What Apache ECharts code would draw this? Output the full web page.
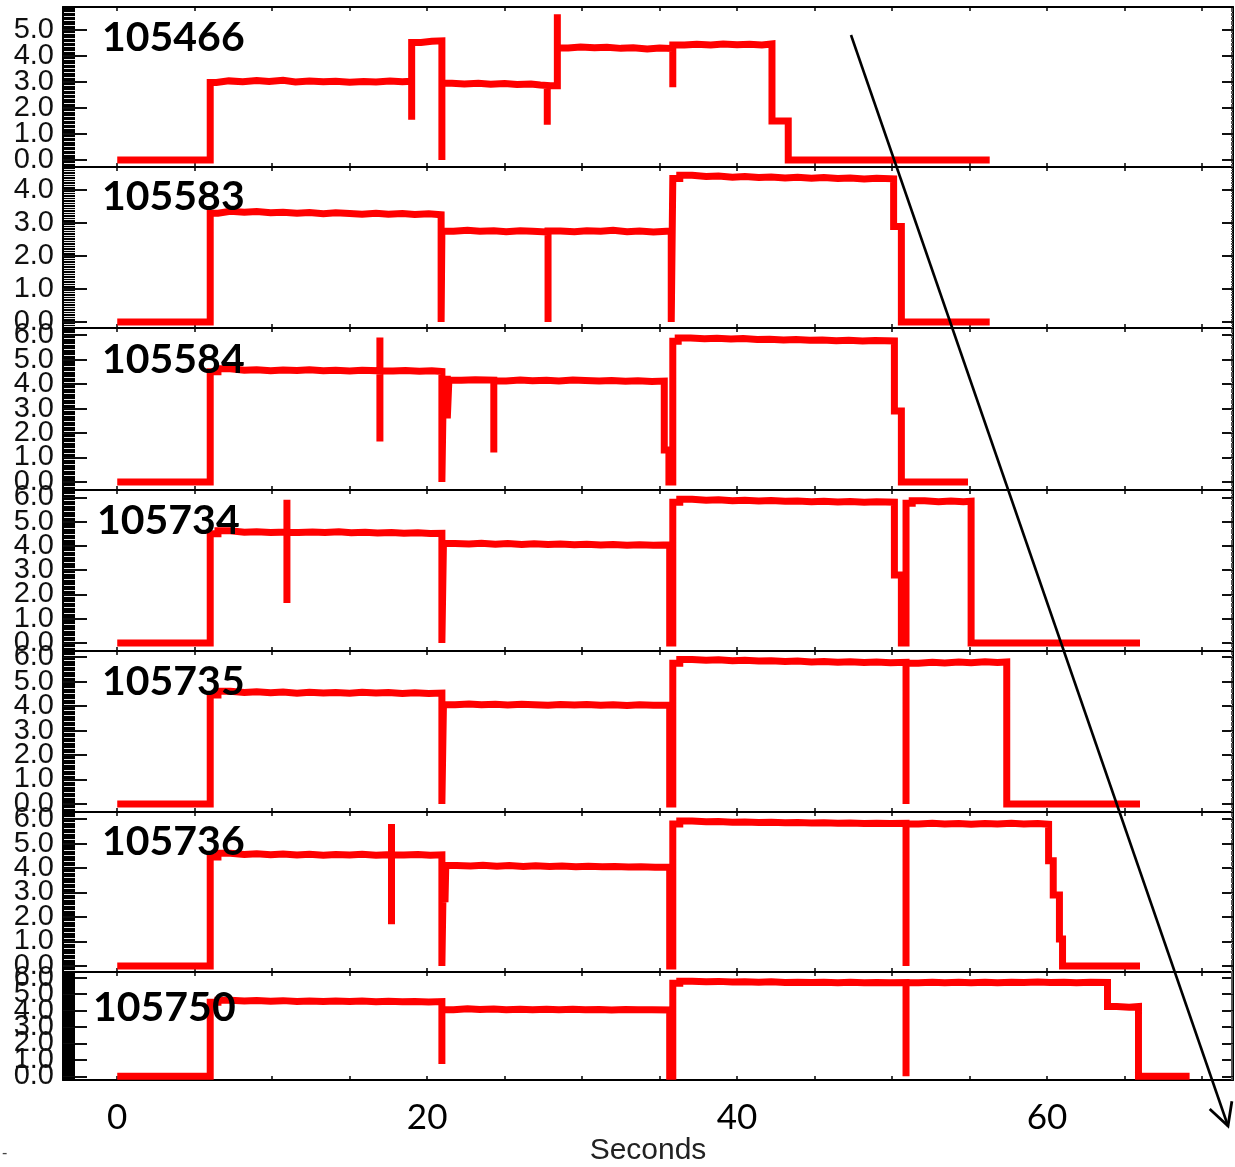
<!DOCTYPE html>
<html>
<head>
<meta charset="utf-8">
<title>Shot traces</title>
<script src="https://cdn.jsdelivr.net/npm/echarts@6/dist/echarts.min.js"></script>
<style>
  html, body { margin: 0; padding: 0; background: #fff; }
  #chart { width: 1235px; height: 1167px; }
</style>
</head>
<body>
<div id="chart"></div>
<script>
// Shot numbers, top to bottom
const SHOTS = ['105466', '105583', '105584', '105734', '105735', '105736', '105750'];

// Traces: [seconds, value] pairs; step changes are written as repeated times
const shot105466 = [
  [0, 0], [6.0, 0], [6.0, 2.98], [6.4, 3.04], [7.2, 3.01], [8.1, 3.05], [9.0, 3.02], [9.8, 3.06],
  [10.7, 3.0], [11.5, 3.04], [12.4, 3.01], [13.3, 3.03], [14.1, 2.99], [15.0, 3.02], [15.9, 3.0],
  [16.7, 3.04], [17.6, 3.01], [18.4, 3.03], [19.0, 3.0], [19.0, 1.55], [19.0, 4.52], [19.6, 4.56],
  [20.3, 4.58], [20.95, 4.55], [20.95, 0], [20.95, 2.95], [21.6, 2.92], [22.4, 2.95], [23.3, 2.91],
  [24.1, 2.94], [25.0, 2.9], [25.8, 2.92], [26.7, 2.88], [27.3, 2.86], [27.75, 2.85], [27.75, 1.35],
  [27.75, 2.85], [28.4, 2.86], [28.4, 5.6], [28.4, 4.3], [29.1, 4.34], [29.9, 4.31], [30.8, 4.33],
  [31.6, 4.29], [32.5, 4.31], [33.3, 4.27], [34.2, 4.3], [35.0, 4.28], [35.85, 4.29], [35.85, 2.8],
  [35.85, 4.42], [36.6, 4.45], [37.4, 4.42], [38.3, 4.46], [39.1, 4.43], [40.0, 4.45], [40.8, 4.42],
  [41.6, 4.46], [42.25, 4.43], [42.25, 1.5], [43.3, 1.5], [43.3, 0], [56.3, 0]
];
const shot105583 = [
  [0, 0], [6.0, 0], [6.0, 3.3], [6.5, 3.36], [7.3, 3.33], [8.2, 3.35], [9.0, 3.31], [9.9, 3.33],
  [10.7, 3.3], [11.6, 3.32], [12.4, 3.28], [13.3, 3.31], [14.1, 3.29], [15.0, 3.27], [15.8, 3.3],
  [16.7, 3.27], [17.5, 3.29], [18.4, 3.26], [19.2, 3.28], [20.1, 3.25], [20.9, 3.27], [20.9, 0],
  [20.95, 2.75], [21.7, 2.78], [22.6, 2.75], [23.4, 2.77], [24.3, 2.74], [25.1, 2.77], [26.0, 2.75],
  [26.8, 2.73], [27.8, 2.75], [27.8, 0], [27.8, 2.76], [28.6, 2.74], [29.5, 2.77], [30.3, 2.75],
  [31.2, 2.78], [32.0, 2.74], [32.9, 2.76], [33.7, 2.73], [34.6, 2.76], [35.75, 2.75], [35.75, 0],
  [35.85, 4.35], [36.3, 4.45], [37.1, 4.41], [38.0, 4.43], [38.8, 4.39], [39.7, 4.41], [40.5, 4.38],
  [41.4, 4.4], [42.2, 4.37], [43.1, 4.39], [43.9, 4.36], [44.8, 4.38], [45.6, 4.35], [46.5, 4.37],
  [47.3, 4.34], [48.2, 4.36], [49.0, 4.34], [50.1, 4.35], [50.1, 2.9], [50.6, 2.9], [50.6, 0],
  [56.3, 0]
];
const shot105584 = [
  [0, 0], [6.0, 0], [6.0, 4.5], [6.5, 4.62], [7.3, 4.56], [8.2, 4.58], [9.0, 4.54], [9.9, 4.57],
  [10.7, 4.55], [11.6, 4.58], [12.4, 4.54], [13.3, 4.56], [14.1, 4.53], [15.0, 4.56], [15.8, 4.54],
  [16.95, 4.55], [16.95, 5.9], [16.95, 1.65], [16.95, 4.53], [17.8, 4.55], [18.6, 4.52], [19.5, 4.54],
  [20.3, 4.51], [20.95, 4.52], [20.95, 0], [21.05, 4.2], [21.3, 4.18], [21.3, 2.6], [21.4, 2.6],
  [21.4, 4.15], [22.2, 4.18], [23.1, 4.16], [24.3, 4.15], [24.3, 1.2], [24.3, 4.12], [25.1, 4.16],
  [26.0, 4.13], [26.8, 4.15], [27.7, 4.12], [28.5, 4.16], [29.4, 4.14], [30.2, 4.12], [31.1, 4.14],
  [31.9, 4.11], [32.8, 4.13], [33.6, 4.1], [34.5, 4.12], [35.3, 4.1], [35.3, 1.3], [35.6, 1.3],
  [35.6, 0], [35.85, 0], [35.85, 5.75], [36.2, 5.88], [37.0, 5.85], [37.9, 5.87], [38.7, 5.84],
  [39.6, 5.86], [40.4, 5.82], [41.3, 5.83], [42.1, 5.8], [43.0, 5.82], [43.8, 5.79], [44.7, 5.8],
  [45.5, 5.77], [46.4, 5.79], [47.2, 5.76], [48.1, 5.78], [48.9, 5.76], [50.15, 5.75], [50.15, 2.9],
  [50.6, 2.9], [50.6, 0], [54.9, 0]
];
const shot105734 = [
  [0, 0], [6.0, 0], [6.0, 4.5], [6.5, 4.62], [7.3, 4.56], [8.2, 4.58], [9.0, 4.55], [9.9, 4.57],
  [10.95, 4.55], [10.95, 5.9], [10.95, 1.65], [10.95, 4.55], [11.7, 4.57], [12.6, 4.55], [13.4, 4.58],
  [14.3, 4.54], [15.1, 4.56], [16.0, 4.53], [16.8, 4.55], [17.7, 4.52], [18.5, 4.54], [19.4, 4.51],
  [20.2, 4.52], [20.95, 4.5], [20.95, 0], [21.05, 4.1], [21.8, 4.08], [22.7, 4.11], [23.5, 4.07],
  [24.4, 4.1], [25.2, 4.06], [26.1, 4.09], [26.9, 4.06], [27.8, 4.08], [28.6, 4.05], [29.5, 4.07],
  [30.3, 4.04], [31.2, 4.06], [32.0, 4.03], [32.9, 4.05], [33.7, 4.02], [34.6, 4.04], [35.65, 4.03],
  [35.65, 0], [35.85, 0], [35.85, 5.8], [36.3, 5.92], [37.1, 5.88], [38.0, 5.9], [38.8, 5.86],
  [39.7, 5.88], [40.5, 5.85], [41.4, 5.87], [42.2, 5.84], [43.1, 5.85], [43.9, 5.82], [44.8, 5.84],
  [45.6, 5.81], [46.5, 5.83], [47.3, 5.8], [48.2, 5.82], [49.0, 5.8], [50.15, 5.8], [50.15, 2.8],
  [50.6, 2.8], [50.6, 0], [50.9, 0], [50.9, 5.75], [51.3, 5.86], [52.1, 5.82], [53.0, 5.85],
  [53.8, 5.82], [54.6, 5.84], [55.1, 5.8], [55.1, 0], [66.0, 0]
];
const shot105735 = [
  [0, 0], [6.0, 0], [6.0, 4.45], [6.5, 4.6], [7.3, 4.55], [8.2, 4.58], [9.0, 4.54], [9.9, 4.57],
  [10.7, 4.52], [11.6, 4.56], [12.4, 4.53], [13.3, 4.55], [14.1, 4.52], [15.0, 4.56], [15.8, 4.53],
  [16.7, 4.55], [17.5, 4.51], [18.4, 4.54], [19.2, 4.51], [20.1, 4.53], [20.95, 4.5], [20.95, 0],
  [21.05, 4.05], [21.8, 4.08], [22.7, 4.05], [23.5, 4.07], [24.4, 4.04], [25.2, 4.07], [26.1, 4.05],
  [26.9, 4.03], [27.8, 4.06], [28.6, 4.04], [29.5, 4.06], [30.3, 4.03], [31.2, 4.05], [32.0, 4.02],
  [32.9, 4.05], [33.7, 4.03], [34.6, 4.04], [35.65, 4.03], [35.65, 0], [35.85, 0], [35.85, 5.75],
  [36.3, 5.9], [37.1, 5.87], [38.0, 5.89], [38.8, 5.85], [39.7, 5.87], [40.5, 5.84], [41.4, 5.85],
  [42.2, 5.82], [43.1, 5.84], [43.9, 5.8], [44.8, 5.82], [45.6, 5.79], [46.5, 5.81], [47.3, 5.78],
  [48.2, 5.8], [49.0, 5.77], [49.9, 5.79], [50.9, 5.77], [50.9, 0], [50.9, 5.75], [51.7, 5.79],
  [52.6, 5.76], [53.4, 5.8], [54.3, 5.77], [55.1, 5.81], [56.0, 5.78], [56.8, 5.8], [57.4, 5.79],
  [57.4, 0], [66.0, 0]
];
const shot105736 = [
  [0, 0], [6.0, 0], [6.0, 4.45], [6.5, 4.6], [7.3, 4.55], [8.2, 4.58], [9.0, 4.54], [9.9, 4.57],
  [10.7, 4.53], [11.6, 4.56], [12.4, 4.52], [13.3, 4.55], [14.1, 4.53], [15.0, 4.56], [15.8, 4.52],
  [16.7, 4.55], [17.7, 4.53], [17.7, 5.8], [17.7, 1.7], [17.7, 4.53], [18.5, 4.55], [19.4, 4.52],
  [20.2, 4.54], [20.95, 4.52], [20.95, 0], [21.05, 4.1], [21.15, 4.1], [21.15, 2.6], [21.2, 2.6],
  [21.2, 4.1], [21.9, 4.08], [22.8, 4.11], [23.6, 4.07], [24.5, 4.1], [25.3, 4.06], [26.2, 4.09],
  [27.0, 4.06], [27.9, 4.08], [28.7, 4.05], [29.6, 4.07], [30.4, 4.05], [31.3, 4.06], [32.1, 4.04],
  [33.0, 4.05], [33.8, 4.03], [34.7, 4.04], [35.65, 4.03], [35.65, 0], [35.85, 0], [35.85, 5.8],
  [36.3, 5.92], [37.1, 5.89], [38.0, 5.9], [38.8, 5.87], [39.7, 5.88], [40.5, 5.86], [41.4, 5.87],
  [42.2, 5.85], [43.1, 5.86], [43.9, 5.84], [44.8, 5.85], [45.6, 5.83], [46.5, 5.84], [47.3, 5.82],
  [48.2, 5.83], [49.0, 5.82], [49.9, 5.83], [50.9, 5.82], [50.9, 0], [50.9, 5.8], [51.7, 5.83],
  [52.6, 5.8], [53.4, 5.82], [54.3, 5.79], [55.1, 5.82], [56.0, 5.8], [56.8, 5.83], [57.7, 5.8],
  [58.5, 5.82], [59.4, 5.79], [60.1, 5.8], [60.1, 4.3], [60.4, 4.3], [60.4, 2.9], [60.8, 2.9],
  [60.8, 1.1], [61.0, 1.1], [61.0, 0], [66.0, 0]
];
const shot105750 = [
  [0, 0], [6.0, 0], [6.0, 4.5], [6.5, 4.63], [7.3, 4.58], [8.2, 4.61], [9.0, 4.57], [9.9, 4.6],
  [10.7, 4.55], [11.6, 4.58], [12.4, 4.55], [13.3, 4.57], [14.1, 4.54], [15.0, 4.57], [15.8, 4.53],
  [16.7, 4.56], [17.5, 4.53], [18.4, 4.55], [19.2, 4.52], [20.1, 4.54], [20.95, 4.52], [20.95, 0.75],
  [20.95, 4.05], [21.7, 4.1], [22.6, 4.06], [23.4, 4.09], [24.3, 4.05], [25.1, 4.08], [26.0, 4.05],
  [26.8, 4.07], [27.7, 4.04], [28.5, 4.07], [29.4, 4.05], [30.2, 4.06], [31.1, 4.03], [31.9, 4.06],
  [32.8, 4.04], [33.6, 4.05], [34.5, 4.03], [35.65, 4.03], [35.65, 0], [35.85, 0], [35.85, 5.65],
  [36.3, 5.78], [37.1, 5.75], [38.0, 5.77], [38.8, 5.73], [39.7, 5.75], [40.5, 5.72], [41.4, 5.74],
  [42.2, 5.7], [43.1, 5.72], [43.9, 5.7], [44.8, 5.71], [45.6, 5.69], [46.5, 5.71], [47.3, 5.68],
  [48.2, 5.7], [49.0, 5.68], [49.9, 5.7], [50.9, 5.7], [50.9, 0], [50.9, 5.68], [51.7, 5.71],
  [52.6, 5.68], [53.4, 5.72], [54.3, 5.69], [55.1, 5.71], [56.0, 5.68], [56.8, 5.72], [57.7, 5.7],
  [58.5, 5.73], [59.4, 5.7], [60.2, 5.72], [61.1, 5.69], [61.9, 5.72], [62.8, 5.7], [63.9, 5.71],
  [63.9, 4.25], [64.5, 4.2], [65.3, 4.24], [65.9, 4.22], [65.9, 0], [69.2, 0]
];
const TRACES = [shot105466, shot105583, shot105584, shot105734, shot105735, shot105736, shot105750];

// Axis extents and tick values
const X_RANGE = [-3.5, 72];
const X_TICKS = [0, 5, 10, 15, 20, 25, 30, 35, 40, 45, 50, 55, 60, 65, 70];
const X_LABELS = [0, 20, 40, 60];
const Y_RANGES = [[-0.27, 5.88], [-0.18, 4.7], [-0.33, 6.29], [-0.33, 6.3], [-0.33, 6.25], [-0.25, 6.29], [-0.23, 6.34]];
const Y_TICKS = [
  [0, 1, 2, 3, 4, 5],
  [0, 1, 2, 3, 4],
  [0, 1, 2, 3, 4, 5, 6],
  [0, 1, 2, 3, 4, 5, 6],
  [0, 1, 2, 3, 4, 5, 6],
  [0, 1, 2, 3, 4, 5, 6],
  [0, 1, 2, 3, 4, 5, 6]
];

// Panel layout (pixel edges of the stacked plots)
const PANEL_EDGES = [7, 167, 328, 490, 651, 812, 972, 1087];
const PLOT_LEFT = 63;
const PLOT_RIGHT = 2;
const LABEL_POS = [[102, 35], [102, 194], [102, 357], [97, 518], [102, 679], [102, 839], [93, 1005]];

const chart = echarts.init(document.getElementById('chart'), null, { renderer: 'canvas' });

const grids = [], xAxes = [], yAxes = [], series = [];
const frame = { lineStyle: { color: '#000', width: 2 } };
const last = SHOTS.length - 1;
const yLabelStyle = {
  margin: 9, hideOverlap: false,
  fontFamily: 'Liberation Sans', fontSize: 29, color: '#111',
  formatter: v => v.toFixed(1)
};

SHOTS.forEach((shot, i) => {
  grids.push({
    left: PLOT_LEFT, right: PLOT_RIGHT,
    top: PANEL_EDGES[i], height: PANEL_EDGES[i + 1] - PANEL_EDGES[i]
  });
  // bottom and top time axes
  const isLast = i === last;
  xAxes.push({
    type: 'value', gridIndex: i, position: 'bottom',
    min: X_RANGE[0], max: X_RANGE[1], minInterval: 5, maxInterval: 5,
    axisLine: { show: true, onZero: false, ...frame },
    axisTick: { show: true, inside: true, length: 4, customValues: X_TICKS, lineStyle: { color: '#000', width: 1.5 } },
    axisLabel: {
      show: isLast, customValues: X_LABELS, margin: 20,
      fontFamily: 'Lato', fontSize: 35, color: '#000'
    },
    splitLine: { show: false },
    name: isLast ? 'Seconds' : '',
    nameLocation: 'middle', nameGap: 49,
    nameTextStyle: { fontFamily: 'Liberation Sans', fontSize: 30, color: '#222' }
  });
  xAxes.push({
    type: 'value', gridIndex: i, position: 'top',
    min: X_RANGE[0], max: X_RANGE[1], minInterval: 5, maxInterval: 5,
    axisLine: { show: true, onZero: false, ...frame },
    axisTick: { show: true, inside: true, length: 4, customValues: X_TICKS, lineStyle: { color: '#000', width: 1.5 } },
    axisLabel: { show: false },
    splitLine: { show: false }
  });
  // Left value axis: frame, ticks, dense minor ticks and the even labels.
  // The odd labels sit on a companion axis at the same place so that the
  // crowded labels are all kept.
  const evenLabels = Y_TICKS[i].filter(v => v % 2 === 0);
  const oddLabels = Y_TICKS[i].filter(v => v % 2 === 1);
  yAxes.push({
    type: 'value', gridIndex: i, position: 'left',
    min: Y_RANGES[i][0], max: Y_RANGES[i][1], minInterval: 1, maxInterval: 1,
    axisLine: { show: true, onZero: false, ...frame },
    axisTick: { show: true, inside: true, length: 24, customValues: Y_TICKS[i], lineStyle: { color: '#111', width: 2 } },
    minorTick: { show: true, splitNumber: 20, length: 12, lineStyle: { color: '#000', width: 1.1 } },
    axisLabel: { show: true, customValues: evenLabels, ...yLabelStyle },
    splitLine: { show: false }
  });
  yAxes.push({
    type: 'value', gridIndex: i, position: 'left', offset: 0,
    min: Y_RANGES[i][0], max: Y_RANGES[i][1], minInterval: 1, maxInterval: 1,
    axisLine: { show: false },
    axisTick: { show: false },
    axisLabel: { show: true, customValues: oddLabels, ...yLabelStyle },
    splitLine: { show: false }
  });
  yAxes.push({
    type: 'value', gridIndex: i, position: 'right',
    min: Y_RANGES[i][0], max: Y_RANGES[i][1], minInterval: 1, maxInterval: 1,
    axisLine: { show: true, onZero: false, ...frame },
    axisTick: { show: true, inside: true, length: 11, customValues: Y_TICKS[i], lineStyle: { color: '#111', width: 2 } },
    minorTick: { show: true, splitNumber: 20, length: 2, lineStyle: { color: '#555', width: 1 } },
    axisLabel: { show: false },
    splitLine: { show: false }
  });
  series.push({
    name: shot, type: 'line',
    xAxisIndex: 2 * i, yAxisIndex: 3 * i,
    data: TRACES[i],
    step: 'end',
    showSymbol: false, symbol: 'none',
    lineStyle: { color: '#ff0000', width: 7, join: 'miter', cap: 'butt' },
    z: 1,
    animation: false
  });
});

// Shot number captions
const graphics = SHOTS.map((shot, i) => ({
  type: 'text', left: LABEL_POS[i][0], top: LABEL_POS[i][1] - 18, z: 20,
  style: { text: shot, fontFamily: 'Lato', fontWeight: 'bold', fontSize: 41, fill: '#000' }
}));

// Trend arrow across the panels
const A0 = [851, 35], A1 = [1228, 1126];
const len = Math.hypot(A1[0] - A0[0], A1[1] - A0[1]);
const ux = (A0[0] - A1[0]) / len, uy = (A0[1] - A1[1]) / len;
const barb = 25, ang = 28 * Math.PI / 180;
const rot = a => [A1[0] + barb * (ux * Math.cos(a) - uy * Math.sin(a)), A1[1] + barb * (ux * Math.sin(a) + uy * Math.cos(a))];
graphics.push({
  type: 'line', z: 30, silent: true,
  shape: { x1: A0[0], y1: A0[1], x2: A1[0], y2: A1[1] },
  style: { stroke: '#000', lineWidth: 2.6 }
});
graphics.push({
  type: 'polyline', z: 30, silent: true,
  shape: { points: [rot(ang), A1, rot(-ang)] },
  style: { stroke: '#000', lineWidth: 2.8, fill: null, lineJoin: 'miter' }
});
graphics.push({
  type: 'text', left: 2, top: 1146, z: 20,
  style: { text: '-', fontFamily: 'Liberation Sans', fontSize: 16, fill: '#444' }
});

chart.setOption({
  animation: false,
  backgroundColor: '#fff',
  grid: grids,
  xAxis: xAxes,
  yAxis: yAxes,
  series: series,
  graphic: graphics
});
</script>
</body>
</html>
